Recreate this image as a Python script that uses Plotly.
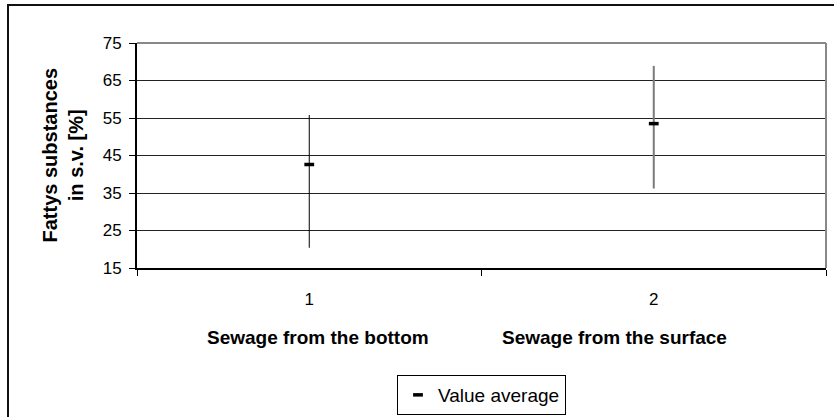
import plotly.graph_objects as go

# ---- data ----
categories = ["1", "2"]
group_labels = ["Sewage from the bottom", "Sewage from the surface"]
maxima = [55.8, 68.9]
minima = [20.4, 36.2]
averages = [42.6, 53.5]
y_ticks = [15, 25, 35, 45, 55, 65, 75]
series_name = "Value average"
y_title = "Fattys substances<br>in s.v. [%]"

FONT = "Liberation Sans, Arial, sans-serif"
range_colors = ["#000000", "#7a7a7a"]
range_widths = [1, 2]

W, H = 834, 417
L, R, T, B = 137, 8, 43, 149
pw = W - L - R
ph = H - T - B


def px_x(x):
    return (x - L) / pw


def px_y(y):
    return (H - B - y) / ph


fig = go.Figure()

for i, c in enumerate(categories):
    fig.add_trace(go.Scatter(
        x=[c, c], y=[minima[i], maxima[i]], mode="lines",
        line=dict(color=range_colors[i], width=range_widths[i]),
        showlegend=False, hoverinfo="skip",
    ))

fig.add_trace(go.Scatter(
    x=categories, y=averages, mode="markers", name=series_name,
    marker=dict(symbol="line-ew", size=7, color="black",
                line=dict(color="black", width=3.5)),
))

annotations = [
    dict(text="<b>" + y_title + "</b>", textangle=-90, xref="paper", yref="paper",
         x=px_x(62), y=0.5, xanchor="center", yanchor="middle", showarrow=False,
         font=dict(family=FONT, size=20, color="black")),
]
for lab, cx in zip(group_labels, [318, 614]):
    annotations.append(dict(
        text="<b>" + lab + "</b>", xref="paper", yref="paper",
        x=px_x(cx), y=px_y(337), xanchor="center", yanchor="middle",
        showarrow=False, font=dict(family=FONT, size=19, color="black")))

shapes = [
    # outer chart border
    dict(type="rect", xref="paper", yref="paper", x0=px_x(8), y0=px_y(5),
         x1=px_x(840), y1=px_y(425), line=dict(color="#111111", width=2),
         layer="above"),
    # plot area top and right borders
    dict(type="line", xref="paper", yref="paper", x0=0, x1=1, y0=1, y1=1,
         line=dict(color="#888888", width=2)),
    dict(type="line", xref="paper", yref="paper", x0=1, x1=1, y0=0, y1=1,
         line=dict(color="#888888", width=2)),
]

fig.update_layout(
    width=W, height=H,
    margin=dict(l=L, r=R, t=T, b=B, autoexpand=False),
    paper_bgcolor="white", plot_bgcolor="white",
    font=dict(family=FONT, color="black"),
    showlegend=True,
    legend=dict(x=0.5, xanchor="center", y=px_y(375), yanchor="top",
                bordercolor="black", borderwidth=1, bgcolor="white",
                font=dict(family=FONT, size=19, color="black")),
    xaxis=dict(type="category", categoryorder="array", categoryarray=categories,
               range=[-0.5, len(categories) - 0.5], tickson="boundaries",
               ticks="outside", ticklen=6, tickcolor="black", tickwidth=1,
               showline=True, linecolor="black", linewidth=2,
               showgrid=False, zeroline=False, ticklabelstandoff=15,
               tickfont=dict(family=FONT, size=17, color="black")),
    xaxis2=dict(overlaying="x", anchor="y", side="bottom",
                range=[-0.5, len(categories) - 0.5],
                tickvals=[i - 0.5 for i in range(len(categories) + 1)],
                ticks="inside", ticklen=6, tickcolor="black", tickwidth=1,
                showticklabels=False, showgrid=False, zeroline=False,
                showline=False),
    yaxis=dict(range=[y_ticks[0], y_ticks[-1]], tickvals=y_ticks,
               ticks="outside", ticklen=6, tickcolor="black", tickwidth=1,
               showline=True, linecolor="black", linewidth=2,
               showgrid=True, gridcolor="#222222", gridwidth=1,
               zeroline=False, ticklabelstandoff=4,
               tickfont=dict(family=FONT, size=17, color="black")),
    annotations=annotations,
    shapes=shapes,
)

fig.write_html("out.html")
